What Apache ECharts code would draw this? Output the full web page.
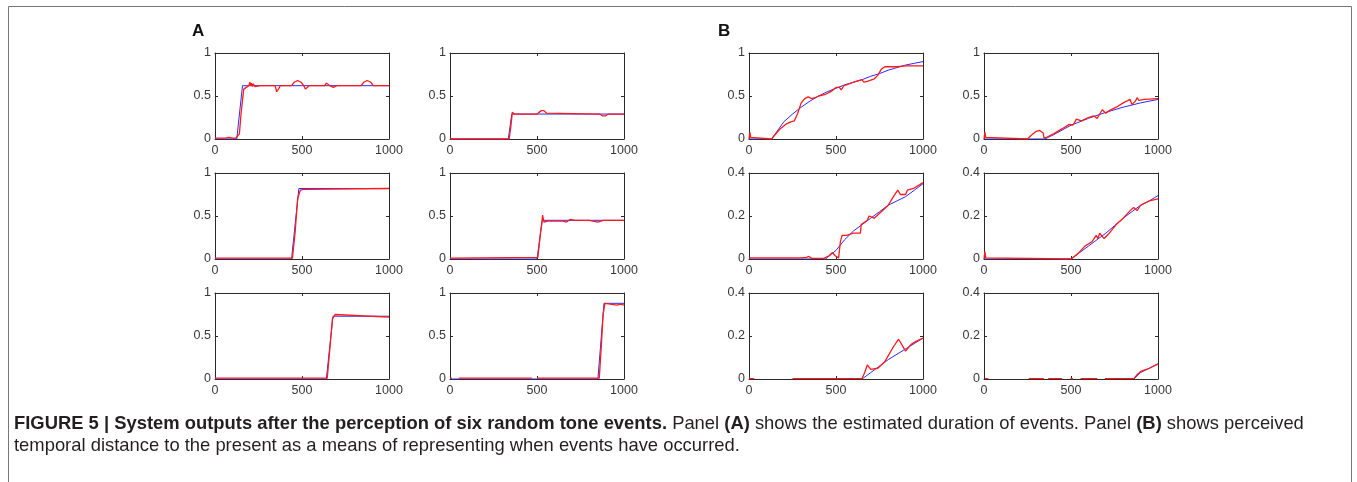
<!DOCTYPE html>
<html><head><meta charset="utf-8">
<script src="https://cdn.jsdelivr.net/npm/echarts@6/dist/echarts.min.js"></script>
<style>html,body{margin:0;padding:0;background:#fff}#c{width:1357px;height:482px}</style>
</head><body><div id="c"></div><script>
// ---- tick values ----
const xTicks = [0, 500, 1000];
const yTicksA = [0, 0.5, 1];
const yTicksB = [0, 0.2, 0.4];

// ---- Panel A, row 1 ----
const a1BlueX = [0, 125, 158, 1000];
const a1BlueY = [0, 0, 0.62, 0.62];
const a1RedX = [0,60,80,100,120,130,140,150,165,180,195,200,205,210,215,220,230,260,345,355,365,375,440,455,475,495,510,520,530,540,630,640,650,660,680,690,700,840,855,875,895,910,1000];
const a1RedY = [0.01,0.01,0.02,0.01,0.01,0.03,0.06,0.3,0.58,0.6,0.62,0.66,0.62,0.65,0.61,0.64,0.61,0.62,0.62,0.55,0.58,0.62,0.62,0.66,0.68,0.66,0.62,0.58,0.56,0.62,0.62,0.65,0.63,0.62,0.6,0.62,0.62,0.62,0.66,0.68,0.66,0.62,0.62];

const a2BlueX = [0, 335, 355, 1000];
const a2BlueY = [0, 0, 0.29, 0.29];
const a2RedX = [0,340,350,358,370,500,510,525,540,555,565,860,875,895,910,1000];
const a2RedY = [0,0,0.15,0.31,0.29,0.29,0.30,0.33,0.33,0.30,0.29,0.29,0.27,0.27,0.29,0.29];

// ---- Panel A, row 2 ----
const a3BlueX = [0, 440, 482, 1000];
const a3BlueY = [0, 0, 0.82, 0.82];
const a3RedX = [0,445,460,475,490,500,510,520,1000];
const a3RedY = [0.01,0.01,0.3,0.7,0.8,0.82,0.81,0.82,0.82];

const a4BlueX = [0, 500, 530, 1000];
const a4BlueY = [0, 0, 0.45, 0.45];
const a4RedX = [0,505,520,528,532,540,560,650,670,690,720,800,850,880,1000];
const a4RedY = [0.01,0.02,0.3,0.42,0.51,0.43,0.44,0.44,0.43,0.46,0.45,0.45,0.43,0.45,0.45];

// ---- Panel A, row 3 ----
const a5BlueX = [0, 640, 678, 1000];
const a5BlueY = [0, 0, 0.73, 0.73];
const a5RedX = [0,645,660,675,690,700,1000];
const a5RedY = [0.01,0.01,0.35,0.7,0.75,0.73,0.72];

const a6BlueX = [0, 850, 885, 1000];
const a6BlueY = [0, 0, 0.88, 0.88];
const a6RedX = [0,10,20,50,470,480,500,858,870,880,890,900,960,980,1000];
const a6RedY = [0.01,0.01,null,0.01,0.01,null,0.01,0.01,0.4,0.75,0.88,0.86,0.86,0.87,0.86];

// ---- Panel B, row 1 ----
const b1BlueX = [0,130,200,250,300,350,400,450,500,550,600,650,700,750,800,850,900,950,1000];
const b1BlueY = [0,0,0.2,0.29,0.37,0.44,0.5,0.55,0.59,0.63,0.66,0.69,0.73,0.76,0.8,0.83,0.86,0.88,0.9];
const b1RedX = [0,5,10,15,20,130,150,180,210,240,260,280,300,320,340,360,380,400,440,470,500,510,520,530,545,560,600,650,660,680,720,740,760,780,800,850,900,1000];
const b1RedY = [0,0.08,0.02,0.01,0,0,0.05,0.12,0.17,0.2,0.21,0.3,0.42,0.47,0.49,0.47,0.48,0.5,0.52,0.55,0.6,0.62,0.6,0.57,0.62,0.63,0.66,0.69,0.66,0.67,0.7,0.74,0.81,0.84,0.84,0.84,0.85,0.85];

const b2BlueX = [0,350,400,500,600,700,800,900,1000];
const b2BlueY = [0,0,0.05,0.16,0.24,0.31,0.37,0.42,0.46];
const b2RedX = [0,5,10,15,250,270,300,320,340,345,360,400,450,490,500,510,520,530,540,560,600,630,640,650,660,680,690,700,720,760,800,840,850,870,880,890,920,1000];
const b2RedY = [0,0.08,0.02,0,0,0.04,0.09,0.1,0.07,0.01,0.02,0.06,0.12,0.17,0.19,0.16,0.19,0.23,0.21,0.21,0.25,0.27,0.29,0.24,0.26,0.34,0.36,0.3,0.33,0.37,0.42,0.46,0.4,0.44,0.48,0.45,0.46,0.47];

// ---- Panel B, row 2 ----
const b3BlueX = [0,440,500,550,600,650,700,750,800,850,900,950,1000];
const b3BlueY = [0,0,0.04,0.09,0.13,0.16,0.19,0.22,0.25,0.27,0.29,0.32,0.35];
const b3RedX = [0,300,330,345,360,430,460,480,495,505,515,525,535,560,600,640,645,655,680,690,720,760,800,830,855,870,900,910,950,1000];
const b3RedY = [0.005,0.005,0.008,0.012,0.003,0.003,0.015,0.03,0.015,0.008,0.005,0.08,0.11,0.11,0.12,0.12,0.16,0.16,0.18,0.2,0.19,0.22,0.25,0.29,0.32,0.3,0.3,0.32,0.33,0.355];

const b4BlueX = [0,500,550,600,650,700,750,800,850,900,950,1000];
const b4BlueY = [0,0,0.03,0.06,0.09,0.12,0.155,0.19,0.22,0.25,0.27,0.295];
const b4RedX = [0,5,10,15,500,540,580,620,645,655,665,675,690,720,760,800,840,860,880,900,950,1000];
const b4RedY = [0,0.035,0.005,0,0,0.025,0.06,0.08,0.11,0.095,0.12,0.125,0.095,0.12,0.16,0.19,0.225,0.24,0.225,0.25,0.27,0.28];

// ---- Panel B, row 3 ----
const b5BlueX = [650,700,750,800,850,900,950,1000];
const b5BlueY = [0,0.03,0.06,0.09,0.115,0.14,0.165,0.19];
const b5RedX = [0,30,40,250,650,665,680,700,740,780,830,860,900,930,960,1000];
const b5RedY = [0.002,0.002,null,0.002,0.002,0.03,0.065,0.045,0.05,0.08,0.15,0.185,0.13,0.16,0.175,0.19];

const b6BlueX = [862,900,950,1000];
const b6BlueY = [0,0.03,0.05,0.07];
const b6RedX = [5,25,26,257,344,345,369,449,450,497,511,512,555,651,652,695,862,880,900,910,950,1000];
const b6RedY = [0.002,0.002,null,0.002,0.002,null,0.002,0.002,null,0.002,0.002,null,0.002,0.002,null,0.002,0.002,0.02,0.035,0.03,0.05,0.07];

// ---- captions ----
const panelLetters = ['A', 'B'];
const captionLine1 = [
  ['b', 'FIGURE 5 | System outputs after the perception of six random tone events.'],
  ['n', ' Panel '], ['b', '(A)'], ['n', ' shows the estimated duration of events. Panel '],
  ['b', '(B)'], ['n', ' shows perceived']
];
const captionLine2 = 'temporal distance to the present as a means of representing when events have occurred.';

// ---- layout ----
const FONT = '"Liberation Sans", Arial, Helvetica, sans-serif';
const FRAME = '#2a2a2a';
const cols = [215, 450, 749, 984];
const rows = [53, 173, 293];
const W = 174, H = 86;

const panels = [
  [a1BlueX, a1BlueY, a1RedX, a1RedY, yTicksA], [a2BlueX, a2BlueY, a2RedX, a2RedY, yTicksA],
  [b1BlueX, b1BlueY, b1RedX, b1RedY, yTicksA], [b2BlueX, b2BlueY, b2RedX, b2RedY, yTicksA],
  [a3BlueX, a3BlueY, a3RedX, a3RedY, yTicksA], [a4BlueX, a4BlueY, a4RedX, a4RedY, yTicksA],
  [b3BlueX, b3BlueY, b3RedX, b3RedY, yTicksB], [b4BlueX, b4BlueY, b4RedX, b4RedY, yTicksB],
  [a5BlueX, a5BlueY, a5RedX, a5RedY, yTicksA], [a6BlueX, a6BlueY, a6RedX, a6RedY, yTicksA],
  [b5BlueX, b5BlueY, b5RedX, b5RedY, yTicksB], [b6BlueX, b6BlueY, b6RedX, b6RedY, yTicksB]
];

const zip = (xs, ys) => xs.map((x, k) => [x, ys[k] === null ? '-' : ys[k]]);
const tick = {show: true, inside: true, length: 3, lineStyle: {color: FRAME, width: 1}};
const line = {show: true, onZero: false, lineStyle: {color: FRAME, width: 1}};
const lab = {color: '#383838', fontSize: 12.5, fontFamily: FONT, showMinLabel: true, showMaxLabel: true};

const grid = [], xAxis = [], yAxis = [], series = [];
panels.forEach((p, i) => {
  const r = Math.floor(i / 4), c = i % 4;
  const yt = p[4];
  grid.push({left: cols[c], top: rows[r], width: W, height: H, show: false});
  const xb = {gridIndex: i, type: 'value', min: xTicks[0], max: xTicks[xTicks.length - 1], interval: xTicks[1] - xTicks[0],
    axisLine: line, axisTick: tick, splitLine: {show: false}};
  xAxis.push(Object.assign({}, xb, {position: 'bottom', axisLabel: Object.assign({margin: 5, formatter: v => String(v)}, lab)}));
  xAxis.push(Object.assign({}, xb, {position: 'top', axisLabel: {show: false}}));
  const yb = {gridIndex: i, type: 'value', min: yt[0], max: yt[yt.length - 1], interval: yt[1] - yt[0],
    axisLine: line, axisTick: tick, splitLine: {show: false}};
  yAxis.push(Object.assign({}, yb, {position: 'left', axisLabel: Object.assign({margin: 4, formatter: v => String(+v.toFixed(2))}, lab)}));
  yAxis.push(Object.assign({}, yb, {position: 'right', axisLabel: {show: false}}));
  series.push({type: 'line', xAxisIndex: 2 * i, yAxisIndex: 2 * i, data: zip(p[0], p[1]), symbol: 'none',
    lineStyle: {color: '#2a2aff', width: 1}, connectNulls: false, z: 3, silent: true});
  series.push({type: 'line', xAxisIndex: 2 * i, yAxisIndex: 2 * i, data: zip(p[2], p[3]), symbol: 'none',
    lineStyle: {color: '#ff1a1a', width: 1.3}, connectNulls: false, z: 4, silent: true});
});

const CAP = 18.4;
const rich = {
  b: {fontFamily: FONT, fontSize: CAP, fontWeight: 'bold', fill: '#231f20'},
  n: {fontFamily: FONT, fontSize: CAP, fontWeight: 'normal', fill: '#231f20'}
};
const graphic = [
  {type: 'rect', shape: {x: 8.5, y: 6.5, width: 1343, height: 520}, style: {fill: 'none', stroke: '#777', lineWidth: 1}, silent: true},
  {type: 'text', x: 192, y: 31, style: {text: panelLetters[0], font: 'bold 17px ' + FONT, fill: '#111', verticalAlign: 'middle'}},
  {type: 'text', x: 718, y: 31, style: {text: panelLetters[1], font: 'bold 17px ' + FONT, fill: '#111', verticalAlign: 'middle'}},
  {type: 'text', x: 14, y: 424, style: {text: captionLine1.map(s => '{' + s[0] + '|' + s[1] + '}').join(''), rich: rich, verticalAlign: 'middle'}},
  {type: 'text', x: 14, y: 446, style: {text: captionLine2, font: CAP + 'px ' + FONT, fill: '#231f20', verticalAlign: 'middle'}}
];

const chart = echarts.init(document.getElementById('c'), null, {renderer: 'canvas'});
chart.setOption({animation: false, backgroundColor: '#fff', grid, xAxis, yAxis, series, graphic});
</script></body></html>
